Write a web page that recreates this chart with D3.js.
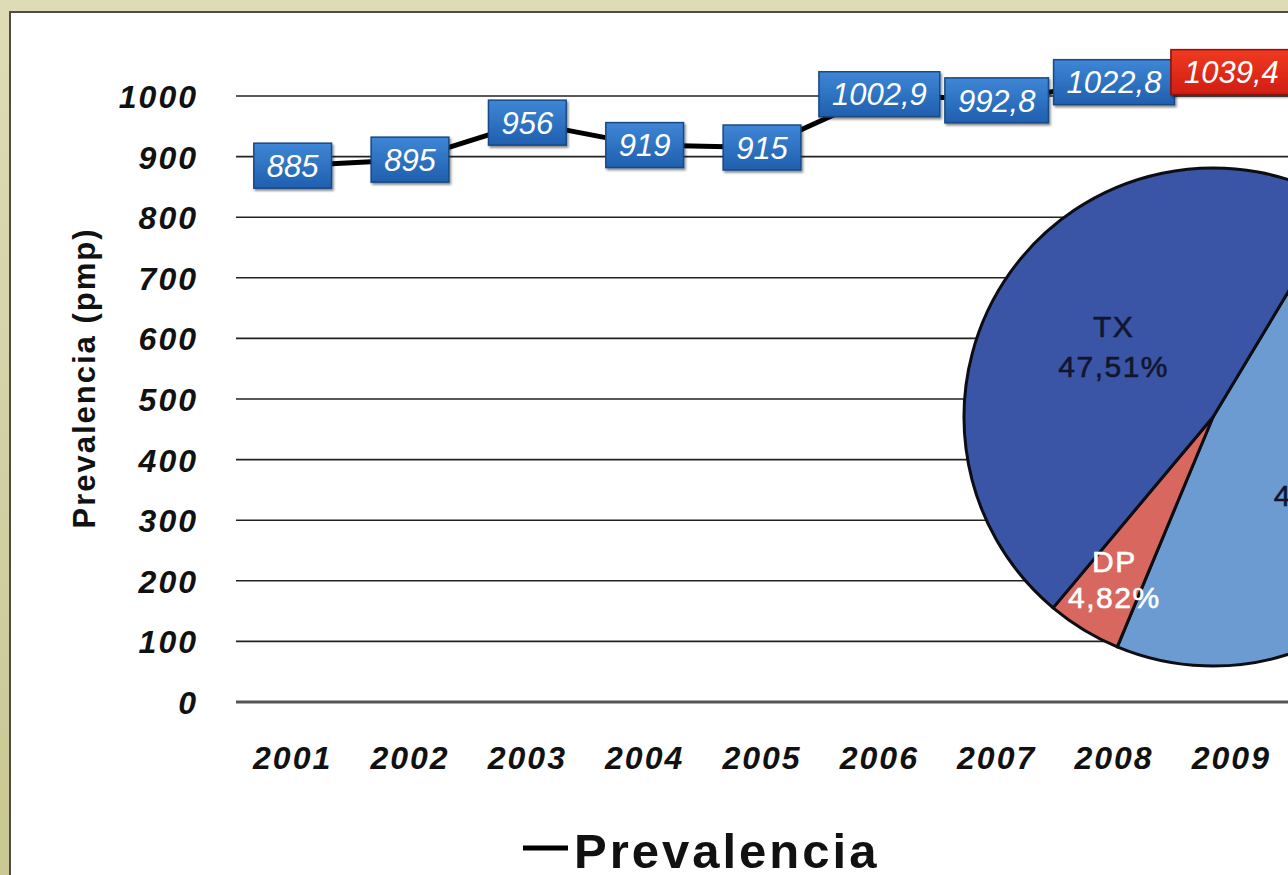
<!DOCTYPE html>
<html>
<head>
<meta charset="utf-8">
<script src="https://cdn.jsdelivr.net/npm/d3@7"></script>
<style>
  html, body { margin: 0; padding: 0; overflow: hidden; background: #d3d1a4; }
  svg { display: block; }
</style>
</head>
<body>
<svg id="chart" width="1288" height="875"></svg>
<script>
// Prevalence per million population, by year
const years = ["2001", "2002", "2003", "2004", "2005", "2006", "2007", "2008", "2009"];
const prevalence = [885, 895, 956, 919, 915, 1002.9, 992.8, 1022.8, 1039.4];
const valueLabels = ["885", "895", "956", "919", "915", "1002,9", "992,8", "1022,8", "1039,4"];
const yTicks = [0, 100, 200, 300, 400, 500, 600, 700, 800, 900, 1000];

// Treatment modality split for the latest year
const modalities = ["HD", "DP", "TX"];
const modalityShares = [47.67, 4.82, 47.51];
const shareLabels = ["47,67%", "4,82%", "47,51%"];

const svg = d3.select("#chart");
const defs = svg.append("defs");

// Frame: khaki surround with a white panel
const bg = defs.append("linearGradient").attr("id", "frameGrad").attr("x1", 0).attr("y1", 0).attr("x2", 0).attr("y2", 1);
bg.append("stop").attr("offset", "0%").attr("stop-color", "#dedcb6");
bg.append("stop").attr("offset", "100%").attr("stop-color", "#c9c792");
svg.append("rect").attr("width", 1288).attr("height", 875).attr("fill", "url(#frameGrad)");
svg.append("rect").attr("x", 10).attr("y", 12).attr("width", 1300).attr("height", 880)
  .attr("fill", "#ffffff").attr("stroke", "#4d4d45").attr("stroke-width", 2);

// Scales
const x = d3.scaleBand().domain(years).range([234, 1290]).padding(0);
const xc = d => x(d) + x.bandwidth() / 2;
const y = d3.scaleLinear().domain([0, 1000]).range([702, 96]);

// Horizontal gridlines
svg.append("g").selectAll("line").data(yTicks).join("line")
  .attr("x1", 236).attr("x2", 1290)
  .attr("y1", d => y(d)).attr("y2", d => y(d))
  .attr("stroke", d => d === 0 ? "#555" : "#222")
  .attr("stroke-width", d => d === 0 ? 3 : 1.6);

// Y axis tick labels
const yAxis = d3.axisLeft(y).tickValues(yTicks).tickFormat(d3.format("d")).tickSize(0).tickPadding(0);
const yg = svg.append("g").attr("transform", "translate(198,0)").call(yAxis);
yg.select(".domain").remove();
yg.selectAll("text")
  .attr("font-family", "'Liberation Sans', Arial, sans-serif")
  .attr("font-size", 32).attr("font-weight", "bold").attr("font-style", "italic")
  .attr("letter-spacing", 2).attr("fill", "#111").attr("dy", "0.36em");

// X axis tick labels
const xAxis = d3.axisBottom(x).tickSize(0).tickPadding(0);
const xg = svg.append("g").attr("transform", "translate(0,757)").call(xAxis);
xg.select(".domain").remove();
xg.selectAll("text")
  .attr("font-family", "'Liberation Sans', Arial, sans-serif")
  .attr("font-size", 32).attr("font-weight", "bold").attr("font-style", "italic")
  .attr("letter-spacing", 2).attr("fill", "#111").attr("dy", "0.36em");

// Y axis title
svg.append("text")
  .attr("transform", "translate(95,378) rotate(-90)")
  .attr("text-anchor", "middle")
  .attr("font-family", "'Liberation Sans', Arial, sans-serif")
  .attr("font-size", 31).attr("font-weight", "bold").attr("letter-spacing", 2)
  .attr("fill", "#111")
  .text("Prevalencia (pmp)");

// Prevalence line
const series = years.map((yr, i) => ({ year: yr, value: prevalence[i], label: valueLabels[i] }));
svg.append("path").datum(series)
  .attr("fill", "none").attr("stroke", "#000").attr("stroke-width", 5)
  .attr("stroke-linejoin", "round")
  .attr("d", d3.line().x(d => xc(d.year)).y(d => y(d.value)));

// Modality pie
const pieCx = 1213, pieCy = 417, pieR = 249;
const pieColors = ["#6b9bd1", "#d8675f", "#3a55a6"];
const pieLight = ["#8fb7e3", "#ef8f84", "#5670bd"];
pieColors.forEach((c, i) => {
  const g = defs.append("radialGradient").attr("id", "pieGrad" + i)
    .attr("gradientUnits", "userSpaceOnUse")
    .attr("cx", pieCx).attr("cy", pieCy).attr("r", pieR);
  g.append("stop").attr("offset", "0%").attr("stop-color", c);
  g.append("stop").attr("offset", "93%").attr("stop-color", c);
  g.append("stop").attr("offset", "96.5%").attr("stop-color", pieLight[i]);
  g.append("stop").attr("offset", "100%").attr("stop-color", c);
});

const pie = d3.pie().sort(null).value(d => d.share)
  .startAngle(31 * Math.PI / 180).endAngle(31 * Math.PI / 180 + 2 * Math.PI);
const slices = pie(modalities.map((m, i) => ({ name: m, share: modalityShares[i], label: shareLabels[i] })));
const arc = d3.arc().innerRadius(0).outerRadius(pieR);
const pg = svg.append("g").attr("transform", `translate(${pieCx},${pieCy})`);
pg.selectAll("path").data(slices).join("path")
  .attr("d", arc)
  .attr("fill", (d, i) => `url(#pieGrad${i})`)
  .attr("stroke", "#0d0d14").attr("stroke-width", 3).attr("stroke-linejoin", "round");

// Slice labels (name above percentage)
const labelRadius = { HD: 130, DP: 190, TX: 122 };
const labelColor = { HD: "#11162e", DP: "#ffffff", TX: "#11162e" };
const lbl = pg.selectAll("g.lbl").data(slices).join("g").attr("class", "lbl")
  .attr("transform", d => {
    const r = labelRadius[d.data.name];
    const c = d3.arc().innerRadius(r).outerRadius(r).centroid(d);
    return `translate(${c[0]},${c[1]})`;
  });
const lblFont = sel => sel
  .attr("text-anchor", "middle").attr("dy", "0.36em")
  .attr("font-family", "'Liberation Sans', Arial, sans-serif").attr("font-size", 30)
  .attr("letter-spacing", 1.5).attr("fill", d => labelColor[d.data.name])
  .attr("stroke", d => labelColor[d.data.name]).attr("stroke-width", 0.6);
lbl.append("text").attr("y", d => d.data.name === "DP" ? -18 : -20).call(lblFont)
  .text(d => d.data.name);
lbl.append("text").attr("y", d => d.data.name === "DP" ? 18 : 20).call(lblFont)
  .text(d => d.data.label);

// Value boxes on each point
const boxGrad = (id, top, bottom) => {
  const g = defs.append("linearGradient").attr("id", id).attr("x1", 0).attr("y1", 0).attr("x2", 0).attr("y2", 1);
  g.append("stop").attr("offset", "0%").attr("stop-color", top);
  g.append("stop").attr("offset", "100%").attr("stop-color", bottom);
};
boxGrad("boxBlue", "#3f86d6", "#1f5fae");
boxGrad("boxRed", "#f03a22", "#d01e10");
const sh = defs.append("filter").attr("id", "boxShadow").attr("x", "-10%").attr("y", "-10%").attr("width", "125%").attr("height", "135%");
sh.append("feDropShadow").attr("dx", 1.5).attr("dy", 2).attr("stdDeviation", 1.2).attr("flood-color", "#000").attr("flood-opacity", 0.45);

const boxes = svg.append("g").selectAll("g").data(series).join("g")
  .attr("transform", d => `translate(${xc(d.year)},${y(d.value)})`);
const rects = boxes.append("rect")
  .attr("fill", (d, i) => i === series.length - 1 ? "url(#boxRed)" : "url(#boxBlue)")
  .attr("stroke", (d, i) => i === series.length - 1 ? "#8a1208" : "#174a86")
  .attr("stroke-width", 1.5)
  .attr("filter", "url(#boxShadow)");
const texts = boxes.append("text")
  .attr("text-anchor", "middle").attr("dy", "0.36em")
  .attr("font-family", "'Liberation Sans', Arial, sans-serif")
  .attr("font-size", 31).attr("font-style", "italic")
  .attr("fill", "#ffffff")
  .text(d => d.label);
texts.each(function (d, i) {
  const w = this.getComputedTextLength() + 26;
  d3.select(rects.nodes()[i]).attr("x", -w / 2).attr("y", -22.5).attr("width", w).attr("height", 45);
});

// Legend
const lg = svg.append("g");
lg.append("line").attr("x1", 523).attr("x2", 568).attr("y1", 848).attr("y2", 848)
  .attr("stroke", "#000").attr("stroke-width", 5);
lg.append("text").attr("x", 574).attr("y", 868)
  .attr("font-family", "'Liberation Sans', Arial, sans-serif")
  .attr("font-size", 49).attr("font-weight", "bold").attr("letter-spacing", 3)
  .attr("fill", "#111")
  .text("Prevalencia");
</script>
</body>
</html>
